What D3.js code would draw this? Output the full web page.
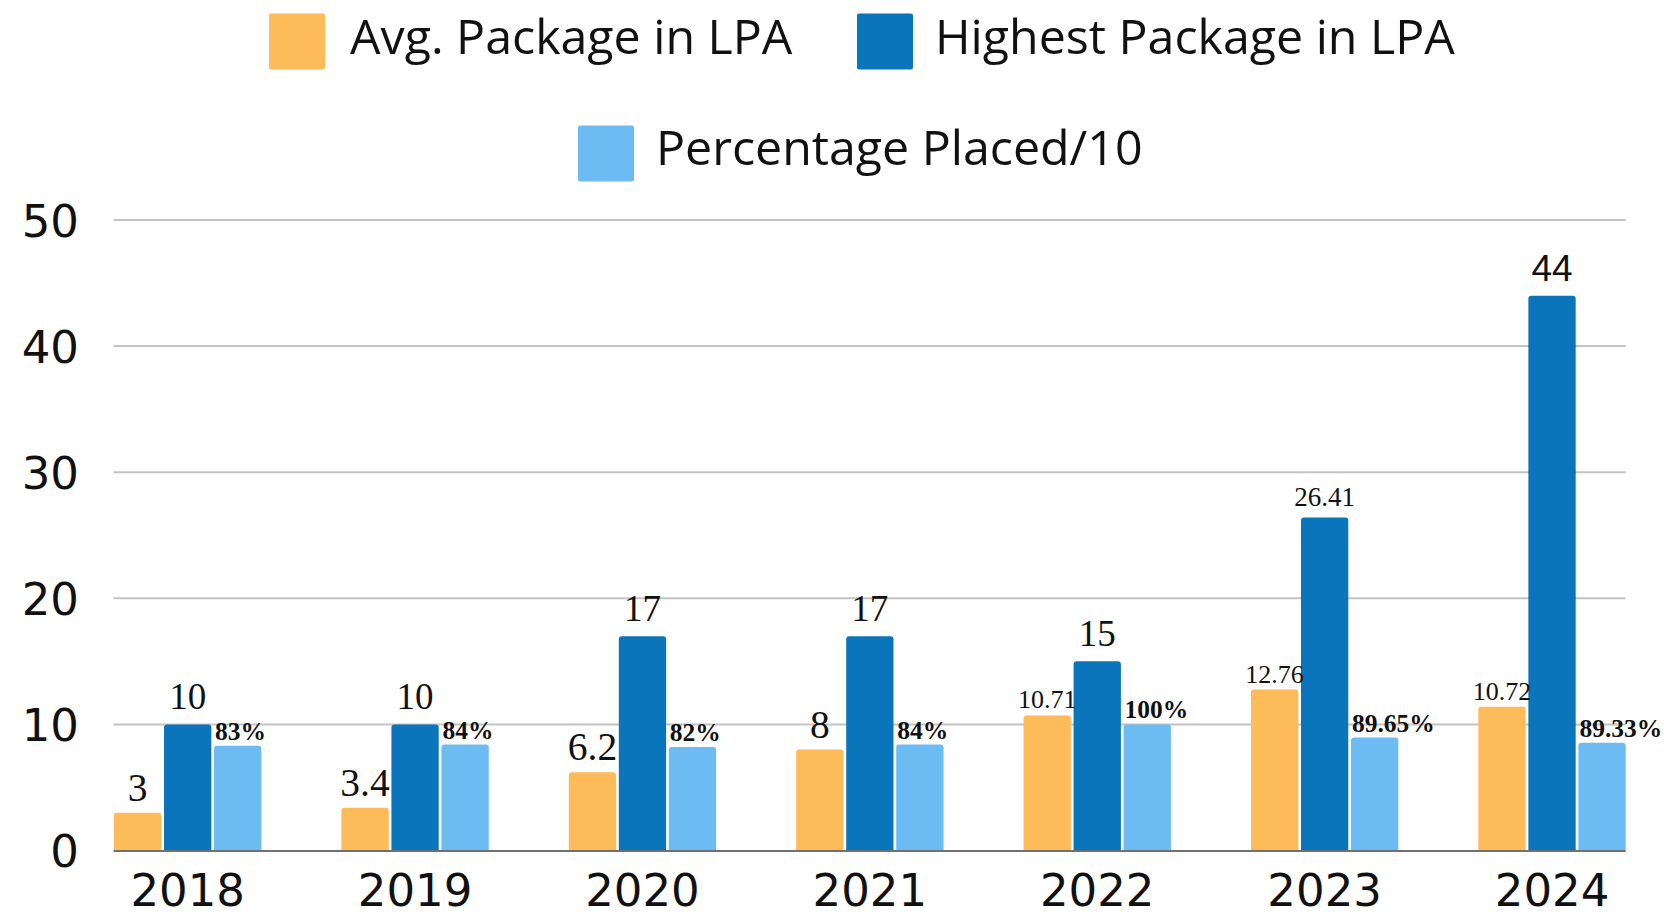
<!DOCTYPE html>
<html>
<head>
<meta charset="utf-8">
<script src="https://cdn.jsdelivr.net/npm/d3@7/dist/d3.min.js"></script>
<style>
  html, body { margin: 0; padding: 0; background: #fff; }
  svg { display: block; }
</style>
</head>
<body>
<svg id="chart" width="1664" height="916"></svg>
<script>
// ---- data ----
const years = ["2018", "2019", "2020", "2021", "2022", "2023", "2024"];
const seriesNames = ["Avg. Package in LPA", "Highest Package in LPA", "Percentage Placed/10"];
const avgValues = [3, 3.4, 6.2, 8, 10.71, 12.76, 11.4];
const highestValues = [10, 10, 17, 17, 15, 26.41, 44];
const pctValues = [8.3, 8.4, 8.2, 8.4, 10, 8.96, 8.54];
const avgLabels = ["3", "3.4", "6.2", "8", "10.71", "12.76", "10.72"];
const highestLabels = ["10", "10", "17", "17", "15", "26.41", "44"];
const pctLabels = ["83%", "84%", "82%", "84%", "100%", "89.65%", "89.33%"];
const yTicks = [0, 10, 20, 30, 40, 50];

// ---- styles ----
const colors = ["#FDBB59", "#0B75BB", "#6CBBF2"];
const svg = d3.select("#chart");
const left = 114, right = 1625.7, y0 = 850.5, y50 = 220;

const x = d3.scaleBand().domain(years).range([left, right]).paddingInner(0.352).paddingOuter(0);
const xs = d3.scaleBand().domain([0, 1, 2]).range([0, x.bandwidth()]).paddingInner(0.054).paddingOuter(0);
const y = d3.scaleLinear().domain([0, 50]).range([y0, y50]);

// gridlines
svg.append("g").selectAll("line").data(yTicks.filter(d => d > 0)).join("line")
  .attr("x1", left - 0.5).attr("x2", right).attr("y1", d => y(d)).attr("y2", d => y(d))
  .attr("stroke", "#c3c3c3").attr("stroke-width", 2);

// y tick labels
const yAxis = d3.axisLeft(y).tickValues(yTicks).tickSize(0).tickPadding(0);
const gy = svg.append("g").attr("transform", `translate(79,0)`).call(yAxis);
gy.select(".domain").remove();
gy.selectAll("text").attr("font-family", "DejaVu Sans").attr("font-size", 45)
  .attr("fill", "#111").attr("dy", "0.36em");

// x labels
const xAxis = d3.axisBottom(x).tickSize(0).tickPadding(0);
const gx = svg.append("g").call(xAxis);
gx.select(".domain").remove();
gx.selectAll("text").attr("font-family", "DejaVu Sans").attr("font-size", 45)
  .attr("fill", "#111").attr("y", 906).attr("dy", 0);

// bars
const seriesVals = [avgValues, highestValues, pctValues];
function barPath(x0, w, top, bottom, r) {
  r = Math.min(r, (bottom - top));
  return `M${x0},${bottom}V${top + r}Q${x0},${top} ${x0 + r},${top}H${x0 + w - r}Q${x0 + w},${top} ${x0 + w},${top + r}V${bottom}Z`;
}
const barData = [];
years.forEach((yr, i) => {
  seriesVals.forEach((vals, s) => {
    barData.push({ yr, s, v: vals[i], i });
  });
});
svg.append("g").selectAll("path").data(barData).join("path")
  .attr("d", d => barPath(x(d.yr) + xs(d.s), xs.bandwidth(), y(d.v), y(0), 3))
  .attr("fill", d => colors[d.s]);

// baseline
svg.append("line").attr("x1", left - 0.5).attr("x2", right).attr("y1", y(0) + 0.5).attr("y2", y(0) + 0.5)
  .attr("stroke", "#707070").attr("stroke-width", 2);

// value labels
const labelG = svg.append("g");
years.forEach((yr, i) => {
  const aSmall = avgLabels[i].length > 3;
  labelG.append("text")
    .attr("x", x(yr) + xs(0) + xs.bandwidth() / 2)
    .attr("y", y(avgValues[i]) - (aSmall ? 7 : 12))
    .attr("text-anchor", "middle")
    .attr("font-family", "Liberation Serif").attr("font-size", aSmall ? 26 : 39.5)
    .attr("fill", "#111").text(avgLabels[i]);
  const hSmall = highestLabels[i].length > 3;
  const isSans = highestLabels[i] === "44";
  labelG.append("text")
    .attr("x", x(yr) + xs(1) + xs.bandwidth() / 2)
    .attr("y", y(highestValues[i]) - (hSmall ? 11 : 15))
    .attr("text-anchor", "middle")
    .attr("font-family", isSans ? "Liberation Sans" : "Liberation Serif")
    .attr("font-size", hSmall ? 27 : 37)
    .attr("fill", "#111").text(highestLabels[i]);
  labelG.append("text")
    .attr("x", x(yr) + xs(2) + 1)
    .attr("y", y(pctValues[i]) - 6)
    .attr("text-anchor", "start")
    .attr("font-family", "Liberation Serif").attr("font-weight", "bold").attr("font-size", 25.5)
    .attr("fill", "#111").text(pctLabels[i]);
});

// legend
const legendItems = [
  { name: seriesNames[0], color: colors[0], sx: 269, sy: 13.5, tx: 350, ty: 53.5 },
  { name: seriesNames[1], color: colors[1], sx: 857, sy: 13.5, tx: 935, ty: 53.5 },
  { name: seriesNames[2], color: colors[2], sx: 578, sy: 125.5, tx: 656, ty: 164.5 }
];
const lg = svg.append("g");
legendItems.forEach(it => {
  lg.append("rect").attr("x", it.sx).attr("y", it.sy).attr("width", 56).attr("height", 56)
    .attr("rx", 2).attr("fill", it.color);
  lg.append("text").attr("x", it.tx).attr("y", it.ty)
    .attr("font-family", "Open Sans").attr("font-size", 48.3).attr("fill", "#111")
    .text(it.name);
});
</script>
</body>
</html>
